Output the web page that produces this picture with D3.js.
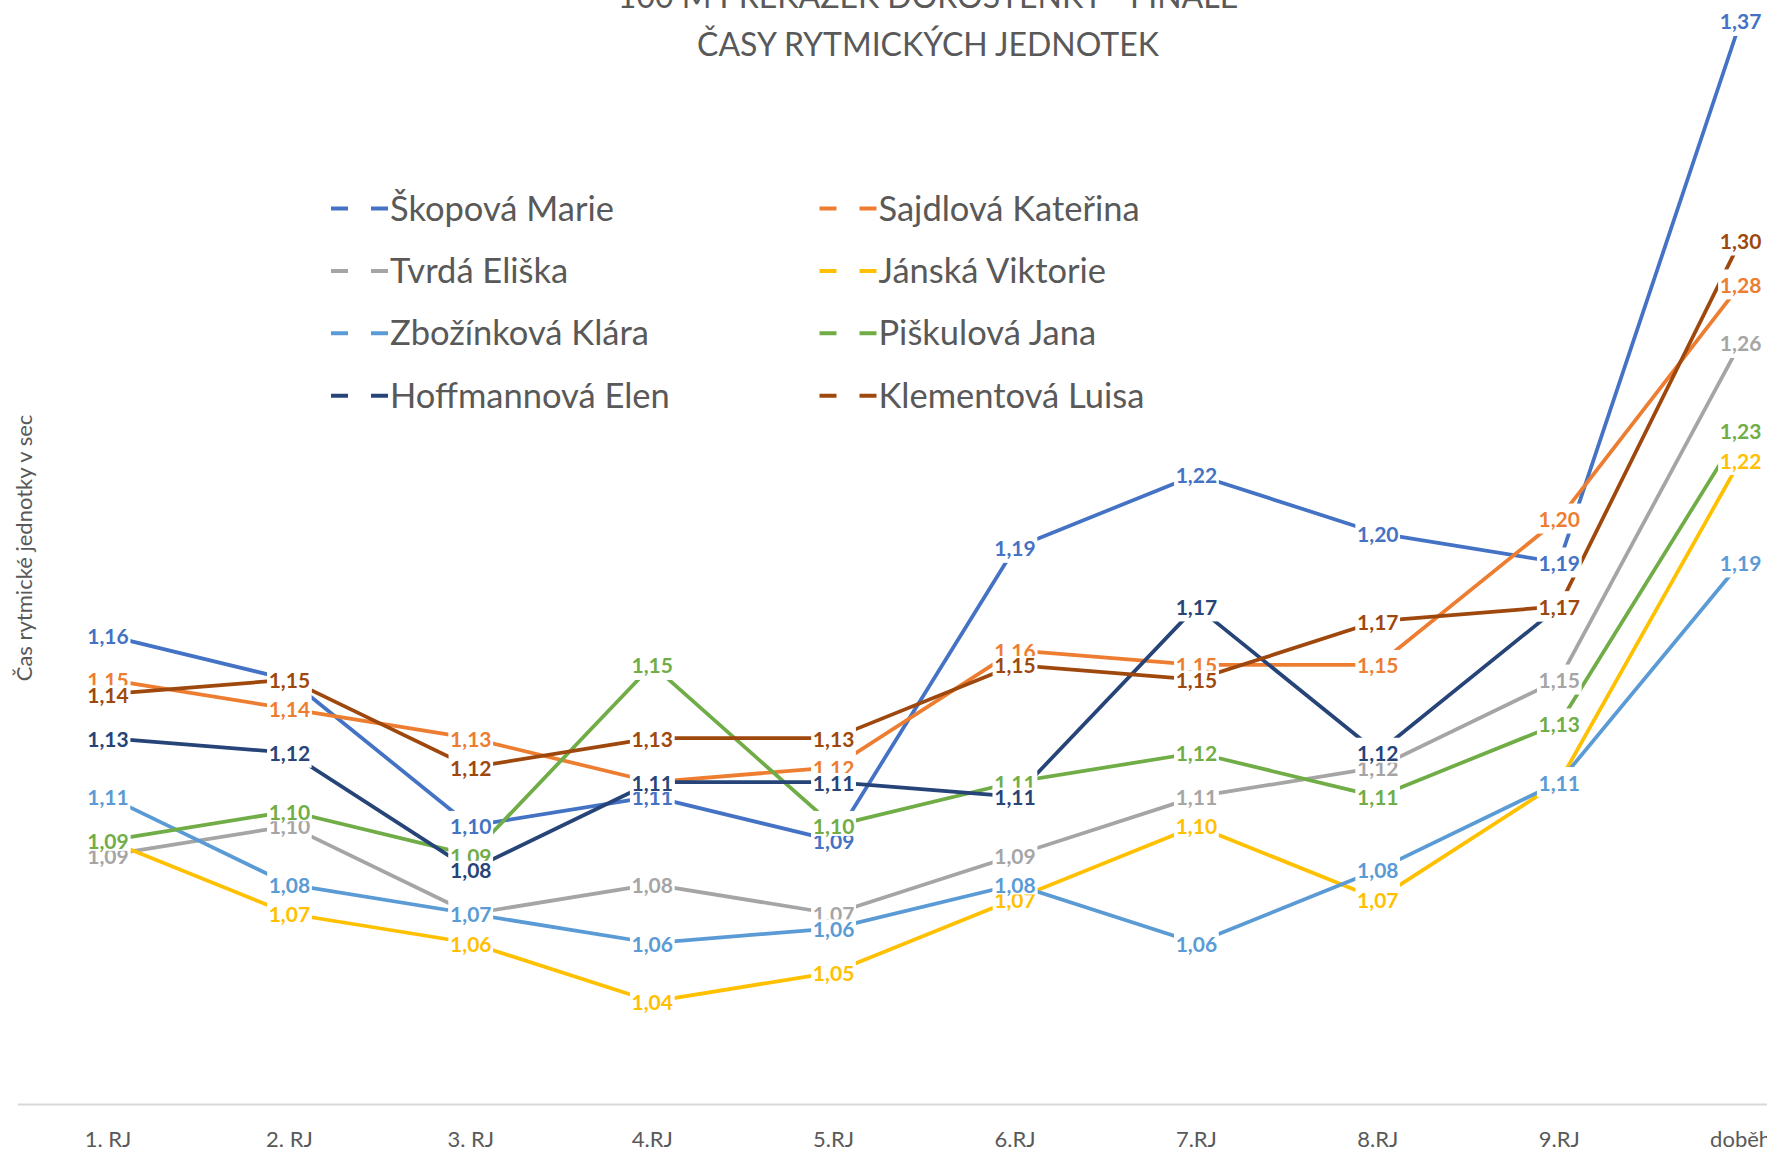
<!DOCTYPE html>
<html>
<head>
<meta charset="utf-8">
<script src="https://cdn.jsdelivr.net/npm/d3@7"></script>
<style>
    html, body { margin: 0; padding: 0; background: #ffffff; }
    svg { display: block; font-family: Lato, 'Open Sans', sans-serif; }
</style>
</head>
<body>
<div id="chart"></div>
<script>
// kategorie (rytmické jednotky)
var categories = [ '1. RJ', '2. RJ', '3. RJ', '4.RJ', '5.RJ', '6.RJ', '7.RJ', '8.RJ', '9.RJ', 'doběh' ];

// časy jednotlivých závodnic v sec
var skopovaMarie     = [ 1.165, 1.15,  1.10,  1.11,  1.095, 1.195, 1.22,  1.20,  1.19,  1.375 ],
    sajdlovaKaterina = [ 1.15,  1.14,  1.13,  1.115, 1.12,  1.16,  1.155, 1.155, 1.205, 1.285 ],
    tvrdaEliska      = [ 1.09,  1.10,  1.07,  1.08,  1.07,  1.09,  1.11,  1.12,  1.15,  1.265 ],
    janskaViktorie   = [ 1.095, 1.07,  1.06,  1.04,  1.05,  1.075, 1.10,  1.075, 1.115, 1.225 ],
    zbozinkovaKlara  = [ 1.11,  1.08,  1.07,  1.06,  1.065, 1.08,  1.06,  1.085, 1.115, 1.19 ],
    piskulovaJana    = [ 1.095, 1.105, 1.09,  1.155, 1.10,  1.115, 1.125, 1.11,  1.135, 1.235 ],
    hoffmannovaElen  = [ 1.13,  1.125, 1.085, 1.115, 1.115, 1.11,  1.175, 1.125, 1.175, null ],
    klementovaLuisa  = [ 1.145, 1.15,  1.12,  1.13,  1.13,  1.155, 1.15,  1.17,  1.175, 1.30 ];

var seriesNames = [ 'Škopová Marie', 'Sajdlová Kateřina', 'Tvrdá Eliška', 'Jánská Viktorie',
                    'Zbožínková Klára', 'Piškulová Jana', 'Hoffmannová Elen', 'Klementová Luisa' ];

var seriesValues = [ skopovaMarie, sajdlovaKaterina, tvrdaEliska, janskaViktorie,
                     zbozinkovaKlara, piskulovaJana, hoffmannovaElen, klementovaLuisa ];

var seriesColors = [ '#4472C4', '#ED7D31', '#A5A5A5', '#FFC000',
                     '#5B9BD5', '#70AD47', '#264478', '#9E480E' ];

var titleLines = [ '100 M PŘEKÁŽEK DOROSTENKY - FINÁLE', 'ČASY RYTMICKÝCH JEDNOTEK' ],
    yAxisTitle = 'Čas rytmické jednotky v sec';

var width  = 1767,
    height = 1151,
    textColor = '#595959',

    svg = d3.select( '#chart' ).append( 'svg' )
        .attr( 'width', width )
        .attr( 'height', height ),

    x = d3.scaleBand()
        .domain( categories )
        .range( [ 17.3, 1831.3 ] ),
    y = d3.scaleLinear()
        .domain( [ 1.005, 1.40 ] )
        .range( [ 1104, -52.2 ] ),

    czech = d3.formatLocale( { decimal: ',', thousands: ' ', grouping: [ 3 ], currency: [ '', ' Kč' ] } ),
    fmt   = czech.format( '.2f' );

function cx( i ) {
    return x( categories[ i ] ) + x.bandwidth() / 2;
}

// časy jsou useknuté na setiny, ne zaokrouhlené
function labelText( v ) {
    return fmt( Math.floor( v * 100 + 1e-6 ) / 100 );
}

svg.append( 'rect' )
    .attr( 'width', width )
    .attr( 'height', height )
    .attr( 'fill', '#ffffff' );

// title
svg.append( 'g' )
    .selectAll( 'text' )
    .data( titleLines )
    .enter().append( 'text' )
    .attr( 'x', 928 )
    .attr( 'y', function ( d, i ) { return 8 + i * 48; } )
    .attr( 'text-anchor', 'middle' )
    .attr( 'font-size', 32 )
    .attr( 'fill', textColor )
    .text( function ( d ) { return d; } );

// y axis title
svg.append( 'text' )
    .attr( 'transform', 'translate(32,548) rotate(-90)' )
    .attr( 'text-anchor', 'middle' )
    .attr( 'font-size', 22 )
    .attr( 'fill', textColor )
    .text( yAxisTitle );

// x axis
var xAxis = svg.append( 'g' )
    .attr( 'transform', 'translate(0,' + y( 1.005 ) + ')' )
    .call( d3.axisBottom( x ).tickSize( 0 ).tickPadding( 27 ) );

xAxis.select( '.domain' )
    .attr( 'stroke', '#D9D9D9' )
    .attr( 'stroke-width', 2 );

xAxis.selectAll( 'text' )
    .attr( 'font-family', 'Lato, sans-serif' )
    .attr( 'font-size', 22 )
    .attr( 'fill', textColor );

// lines
var line = d3.line()
    .defined( function ( d ) { return d !== null; } )
    .x( function ( d, i ) { return cx( i ); } )
    .y( function ( d ) { return y( d ); } );

svg.append( 'g' )
    .selectAll( 'path' )
    .data( seriesValues )
    .enter().append( 'path' )
    .attr( 'fill', 'none' )
    .attr( 'stroke', function ( d, i ) { return seriesColors[ i ]; } )
    .attr( 'stroke-width', 3.75 )
    .attr( 'stroke-linejoin', 'round' )
    .attr( 'd', line );

// data labels: a wide white gap cuts the lines, then each label
// gets a tight box so later labels only partly cover earlier ones
var gapLayer   = svg.append( 'g' ),
    labelLayer = svg.append( 'g' );

seriesValues.forEach( function ( values, s ) {
    values.forEach( function ( v, i ) {
        if ( v === null ) {
            return;
        }
        var pos = 'translate(' + cx( i ) + ',' + y( v ) + ')',
            g = labelLayer.append( 'g' ).attr( 'transform', pos ),
            box = g.append( 'rect' ).attr( 'fill', '#ffffff' ),
            t = g.append( 'text' )
                .attr( 'text-anchor', 'middle' )
                .attr( 'y', 8.5 )
                .attr( 'font-size', 21 )
                .attr( 'font-weight', 'bold' )
                .attr( 'fill', seriesColors[ s ] )
                .text( labelText( v ) ),
            w = t.node().getComputedTextLength() + 3;

        box.attr( 'x', -w / 2 )
            .attr( 'y', -9 )
            .attr( 'width', w )
            .attr( 'height', 19 );

        gapLayer.append( 'rect' )
            .attr( 'transform', pos )
            .attr( 'x', -w / 2 )
            .attr( 'y', -15 )
            .attr( 'width', w )
            .attr( 'height', 30 )
            .attr( 'fill', '#ffffff' );
    } );
} );

// legend
var legend = svg.append( 'g' )
    .selectAll( 'g' )
    .data( seriesNames )
    .enter().append( 'g' )
    .attr( 'transform', function ( d, i ) {
        return 'translate(' + ( i % 2 === 0 ? 331 : 819.5 ) + ',' + ( 208.5 + Math.floor( i / 2 ) * 62.4 ) + ')';
    } );

legend.append( 'line' )
    .attr( 'x1', 0 )
    .attr( 'x2', 57 )
    .attr( 'stroke', function ( d, i ) { return seriesColors[ i ]; } )
    .attr( 'stroke-width', 4 )
    .attr( 'stroke-dasharray', '17,23' );

legend.append( 'text' )
    .attr( 'x', 59 )
    .attr( 'y', 12 )
    .attr( 'font-size', 34.5 )
    .attr( 'fill', textColor )
    .text( function ( d ) { return d; } );
</script>
</body>
</html>
